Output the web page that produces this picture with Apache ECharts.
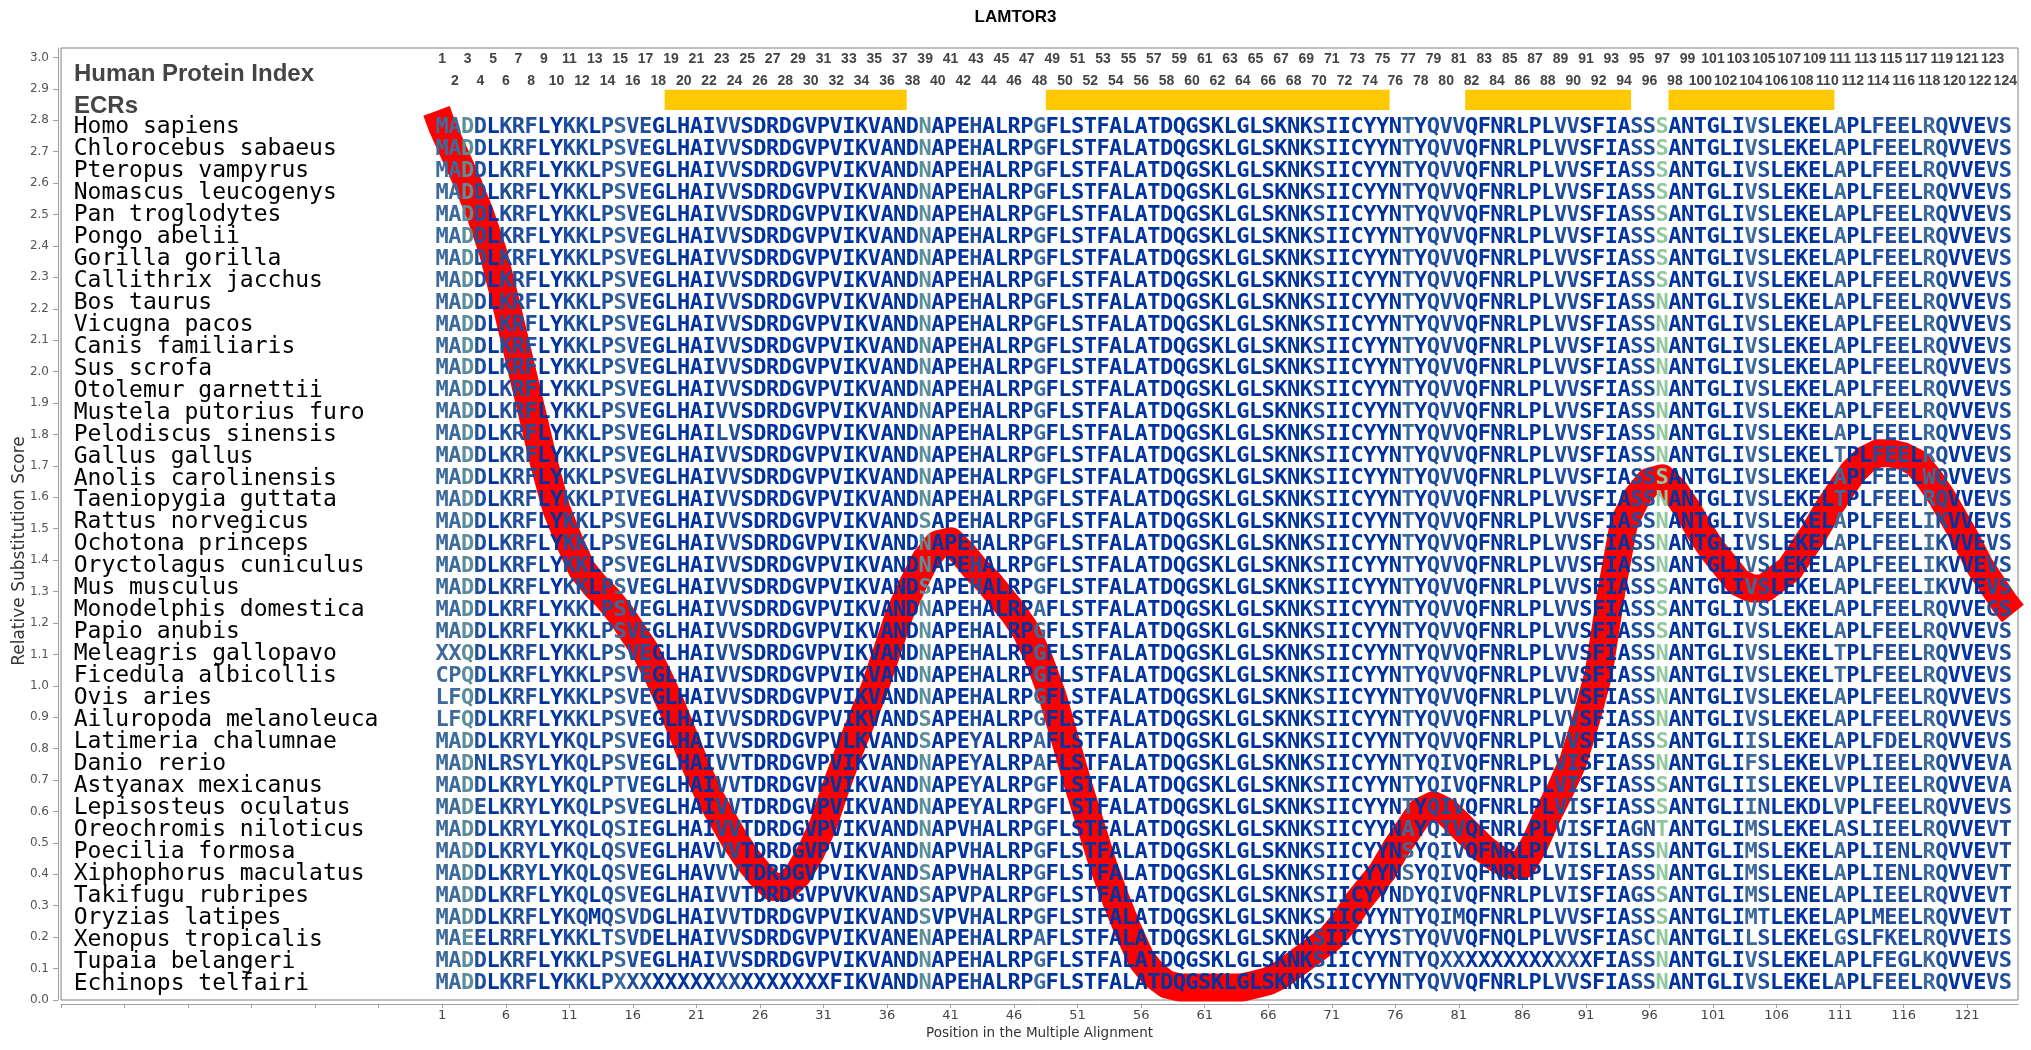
<!DOCTYPE html>
<html>
<head>
<meta charset="utf-8">
<title>LAMTOR3</title>
<script src="https://cdn.jsdelivr.net/npm/echarts@6.0.0/dist/echarts.min.js"></script>
<style>
html, body { margin: 0; padding: 0; background: #fff; }
#chart { width: 2031px; height: 1050px; }
</style>
</head>
<body>
<div id="chart"></div>
<script>
// species shown in the alignment, top to bottom
const species = [
  'Homo sapiens', 'Chlorocebus sabaeus', 'Pteropus vampyrus', 'Nomascus leucogenys',
  'Pan troglodytes', 'Pongo abelii', 'Gorilla gorilla', 'Callithrix jacchus',
  'Bos taurus', 'Vicugna pacos', 'Canis familiaris', 'Sus scrofa',
  'Otolemur garnettii', 'Mustela putorius furo', 'Pelodiscus sinensis', 'Gallus gallus',
  'Anolis carolinensis', 'Taeniopygia guttata', 'Rattus norvegicus', 'Ochotona princeps',
  'Oryctolagus cuniculus', 'Mus musculus', 'Monodelphis domestica', 'Papio anubis',
  'Meleagris gallopavo', 'Ficedula albicollis', 'Ovis aries', 'Ailuropoda melanoleuca',
  'Latimeria chalumnae', 'Danio rerio', 'Astyanax mexicanus', 'Lepisosteus oculatus',
  'Oreochromis niloticus', 'Poecilia formosa', 'Xiphophorus maculatus', 'Takifugu rubripes',
  'Oryzias latipes', 'Xenopus tropicalis', 'Tupaia belangeri', 'Echinops telfairi'
];

// aligned sequences, written in blocks of ten residues
const sequences = [
  'MADDLKRFLY KKLPSVEGLH AIVVSDRDGV PVIKVANDNA PEHALRPGFL STFALATDQG SKLGLSKNKS IICYYNTYQV VQFNRLPLVV SFIASSSANT GLIVSLEKEL APLFEELRQV VEVS',
  'MADDLKRFLY KKLPSVEGLH AIVVSDRDGV PVIKVANDNA PEHALRPGFL STFALATDQG SKLGLSKNKS IICYYNTYQV VQFNRLPLVV SFIASSSANT GLIVSLEKEL APLFEELRQV VEVS',
  'MADDLKRFLY KKLPSVEGLH AIVVSDRDGV PVIKVANDNA PEHALRPGFL STFALATDQG SKLGLSKNKS IICYYNTYQV VQFNRLPLVV SFIASSSANT GLIVSLEKEL APLFEELRQV VEVS',
  'MADDLKRFLY KKLPSVEGLH AIVVSDRDGV PVIKVANDNA PEHALRPGFL STFALATDQG SKLGLSKNKS IICYYNTYQV VQFNRLPLVV SFIASSSANT GLIVSLEKEL APLFEELRQV VEVS',
  'MADDLKRFLY KKLPSVEGLH AIVVSDRDGV PVIKVANDNA PEHALRPGFL STFALATDQG SKLGLSKNKS IICYYNTYQV VQFNRLPLVV SFIASSSANT GLIVSLEKEL APLFEELRQV VEVS',
  'MADDLKRFLY KKLPSVEGLH AIVVSDRDGV PVIKVANDNA PEHALRPGFL STFALATDQG SKLGLSKNKS IICYYNTYQV VQFNRLPLVV SFIASSSANT GLIVSLEKEL APLFEELRQV VEVS',
  'MADDLKRFLY KKLPSVEGLH AIVVSDRDGV PVIKVANDNA PEHALRPGFL STFALATDQG SKLGLSKNKS IICYYNTYQV VQFNRLPLVV SFIASSSANT GLIVSLEKEL APLFEELRQV VEVS',
  'MADDLKRFLY KKLPSVEGLH AIVVSDRDGV PVIKVANDNA PEHALRPGFL STFALATDQG SKLGLSKNKS IICYYNTYQV VQFNRLPLVV SFIASSSANT GLIVSLEKEL APLFEELRQV VEVS',
  'MADDLKRFLY KKLPSVEGLH AIVVSDRDGV PVIKVANDNA PEHALRPGFL STFALATDQG SKLGLSKNKS IICYYNTYQV VQFNRLPLVV SFIASSNANT GLIVSLEKEL APLFEELRQV VEVS',
  'MADDLKRFLY KKLPSVEGLH AIVVSDRDGV PVIKVANDNA PEHALRPGFL STFALATDQG SKLGLSKNKS IICYYNTYQV VQFNRLPLVV SFIASSNANT GLIVSLEKEL APLFEELRQV VEVS',
  'MADDLKRFLY KKLPSVEGLH AIVVSDRDGV PVIKVANDNA PEHALRPGFL STFALATDQG SKLGLSKNKS IICYYNTYQV VQFNRLPLVV SFIASSNANT GLIVSLEKEL APLFEELRQV VEVS',
  'MADDLKRFLY KKLPSVEGLH AIVVSDRDGV PVIKVANDNA PEHALRPGFL STFALATDQG SKLGLSKNKS IICYYNTYQV VQFNRLPLVV SFIASSNANT GLIVSLEKEL APLFEELRQV VEVS',
  'MADDLKRFLY KKLPSVEGLH AIVVSDRDGV PVIKVANDNA PEHALRPGFL STFALATDQG SKLGLSKNKS IICYYNTYQV VQFNRLPLVV SFIASSNANT GLIVSLEKEL APLFEELRQV VEVS',
  'MADDLKRFLY KKLPSVEGLH AIVVSDRDGV PVIKVANDNA PEHALRPGFL STFALATDQG SKLGLSKNKS IICYYNTYQV VQFNRLPLVV SFIASSNANT GLIVSLEKEL APLFEELRQV VEVS',
  'MADDLKRFLY KKLPSVEGLH AILVSDRDGV PVIKVANDNA PEHALRPGFL STFALATDQG SKLGLSKNKS IICYYNTYQV VQFNRLPLVV SFIASSNANT GLIVSLEKEL APLFEELRQV VEVS',
  'MADDLKRFLY KKLPSVEGLH AIVVSDRDGV PVIKVANDNA PEHALRPGFL STFALATDQG SKLGLSKNKS IICYYNTYQV VQFNRLPLVV SFIASSNANT GLIVSLEKEL TPLFEELRQV VEVS',
  'MADDLKRFLY KKLPSVEGLH AIVVSDRDGV PVIKVANDNA PEHALRPGFL STFALATDQG SKLGLSKNKS IICYYNTYQV VQFNRLPLVV SFIASSSANT GLIVSLEKEL APLFEELWQV VEVS',
  'MADDLKRFLY KKLPIVEGLH AIVVSDRDGV PVIKVANDNA PEHALRPGFL STFALATDQG SKLGLSKNKS IICYYNTYQV VQFNRLPLVV SFIASSNANT GLIVSLEKEL TPLFEELRQV VEVS',
  'MADDLKRFLY KKLPSVEGLH AIVVSDRDGV PVIKVANDSA PEHALRPGFL STFALATDQG SKLGLSKNKS IICYYNTYQV VQFNRLPLVV SFIASSNANT GLIVSLEKEL APLFEELIKV VEVS',
  'MADDLKRFLY KKLPSVEGLH AIVVSDRDGV PVIKVANDNA PEHALRPGFL STFALATDQG SKLGLSKNKS IICYYNTYQV VQFNRLPLVV SFIASSNANT GLIVSLEKEL APLFEELIKV VEVS',
  'MADDLKRFLY KKLPSVEGLH AIVVSDRDGV PVIKVANDNA PEHALRPGFL STFALATDQG SKLGLSKNKS IICYYNTYQV VQFNRLPLVV SFIASSNANT GLIVSLEKEL APLFEELIKV VEVS',
  'MADDLKRFLY KKLPSVEGLH AIVVSDRDGV PVIKVANDSA PEHALRPGFL STFALATDQG SKLGLSKNKS IICYYNTYQV VQFNRLPLVV SFIASSSANT GLIVSLEKEL APLFEELIKV VEVS',
  'MADDLKRFLY KKLPSVEGLH AIVVSDRDGV PVIKVANDNA PEHALRPAFL STFALATDQG SKLGLSKNKS IICYYNTYQV VQFNRLPLVV SFIASSSANT GLIVSLEKEL APLFEELRQV VEGS',
  'MADDLKRFLY KKLPSVEGLH AIVVSDRDGV PVIKVANDNA PEHALRPGFL STFALATDQG SKLGLSKNKS IICYYNTYQV VQFNRLPLVV SFIASSSANT GLIVSLEKEL APLFEELRQV VEVS',
  'XXQDLKRFLY KKLPSVEGLH AIVVSDRDGV PVIKVANDNA PEHALRPGFL STFALATDQG SKLGLSKNKS IICYYNTYQV VQFNRLPLVV SFIASSNANT GLIVSLEKEL TPLFEELRQV VEVS',
  'CPQDLKRFLY KKLPSVEGLH AIVVSDRDGV PVIKVANDNA PEHALRPGFL STFALATDQG SKLGLSKNKS IICYYNTYQV VQFNRLPLVV SFIASSNANT GLIVSLEKEL TPLFEELRQV VEVS',
  'LFQDLKRFLY KKLPSVEGLH AIVVSDRDGV PVIKVANDNA PEHALRPGFL STFALATDQG SKLGLSKNKS IICYYNTYQV VQFNRLPLVV SFIASSNANT GLIVSLEKEL APLFEELRQV VEVS',
  'LFQDLKRFLY KKLPSVEGLH AIVVSDRDGV PVIKVANDSA PEHALRPGFL STFALATDQG SKLGLSKNKS IICYYNTYQV VQFNRLPLVV SFIASSNANT GLIVSLEKEL APLFEELRQV VEVS',
  'MADDLKRYLY KQLPSVEGLH AIVVSDRDGV PVLKVANDSA PEYALRPAFL STFALATDQG SKLGLSKNKS IICYYNTYQV VQFNRLPLVV SFIASSSANT GLIISLEKEL APLFDELRQV VEVS',
  'MADNLRSYLY KQLPSVEGLH AIVVTDRDGV PVIKVANDNA PEYALRPAFL STFALATDQG SKLGLSKNKS IICYYNTYQI VQFNRLPLVI SFIASSNANT GLIFSLEKEL VPLIEELRQV VEVA',
  'MADDLKRYLY KQLPTVEGLH AIVVTDRDGV PVIKVANDNA PEYALRPGFL STFALATDQG SKLGLSKNKS IICYYNTYQI VQFNRLPLVI SFIASSSANT GLIISLEKEL VPLIEELRQV VEVA',
  'MADELKRYLY KQLPSVEGLH AIVVTDRDGV PVIKVANDNA PEYALRPGFL STFALATDQG SKLGLSKNKS IICYYNTYQI VQFNRLPLVI SFIASSSANT GLIINLEKDL VPLFEELRQV VEVS',
  'MADDLKRYLY KQLQSIEGLH AIVVTDRDGV PVIKVANDNA PVHALRPGFL STFALATDQG SKLGLSKNKS IICYYNAYQI VQFNRLPLVI SFIAGNTANT GLIMSLEKEL ASLIEELRQV VEVT',
  'MADDLKRYLY KQLQSVEGLH AVVVTDRDGV PVIKVANDNA PVHALRPGFL STFALATDQG SKLGLSKNKS IICYYNSYQI VQFNRLPLVI SLIASSNANT GLIMSLEKEL APLIENLRQV VEVT',
  'MADDLKRYLY KQLQSVEGLH AVVVTDRDGV PVIKVANDSA PVHALRPGFL STFALATDQG SKLGLSKNKS IICYYNSYQI VQFNRLPLVI SFIASSNANT GLIMSLEKEL APLIENLRQV VEVT',
  'MADDLKRFLY KQLQSVEGLH AIVVTDRDGV PVVKVANDSA PVPALRPGFL STFALATDQG SKLGLSKNKS IICYYNDYQI VQFNRLPLVI SFIAGSSANT GLIMSLENEL APLIEELRQV VEVT',
  'MADDLKRFLY KQMQSVDGLH AIVVTDRDGV PVIKVANDSV PVHALRPGFL STFALATDQG SKLGLSKNKS IICYYNTYQI MQFNRLPLVV SFIASSSANT GLIMTLEKEL APLMEELRQV VEVT',
  'MAEELRRFLY KKLTSVDELH AIVVSDRDGV PVIKVANENA PEHALRPAFL STFALATDQG SKLGLSKNKS IICYYSTYQV VQFNQLPLVV SFIASCNANT GLILSLEKEL GSLFKELRQV VEIS',
  'MADDLKRFLY KKLPSVEGLH AIVVSDRDGV PVIKVANDNA PEHALRPGFL STFALATDQG SKLGLSKNKS IICYYNTYQX XXXXXXXXXX XFIASSNANT GLIVSLEKEL APLFEGLKQV VEVS',
  'MADDLKRFLY KKLPXXXXXX XXXXXXXXXX XFIKVANDNA PEHALRPGFL STFALATDQG SKLGLSKNKS IICYYNTYQV VQFNRLPLVV SFIASSNANT GLIVSLEKEL APLFEELRQV VEVS'
].map(s => s.replace(/ /g, ''));

// conservation shade of each alignment column (0 = darkest blue, 4 = pale green)
const columnShade =
  '2231011100' + '1101211000' + '0011000000' + '0000000030' + '0010000200' +
  '0000000000' + '0000000001' + '0000002011' + '1000000011' + '0000114000' +
  '0002100000' + '2001110210' + '0011';
const shadeColors = ['#0033a0', '#1f4e9d', '#3d6a9c', '#5b8e98', '#91c79c'];

// evolutionarily conserved regions (first and last position)
const ecrStart = [19, 49, 82, 98];
const ecrEnd = [37, 75, 94, 110];

// relative substitution score read along the alignment
const scoreStart = [0.55, 2.83];
const scoreEnd = [124.6, 1.23];
const scoreValues = [
  2.78, 2.69, 2.60, 2.50, 2.38, 2.22, 2.05, 1.88, 1.71, 1.56,
  1.46, 1.37, 1.32, 1.28, 1.23, 1.17, 1.11, 1.03, 0.94, 0.84,
  0.74, 0.65, 0.58, 0.51, 0.45, 0.40, 0.36, 0.36, 0.40, 0.47,
  0.56, 0.68, 0.79, 0.89, 0.99, 1.11, 1.23, 1.32, 1.40, 1.45,
  1.46, 1.42, 1.37, 1.33, 1.28, 1.23, 1.17, 1.08, 0.97, 0.83,
  0.69, 0.56, 0.43, 0.32, 0.22, 0.13, 0.08, 0.05, 0.04, 0.04,
  0.04, 0.04, 0.04, 0.04, 0.05, 0.06, 0.08, 0.11, 0.14, 0.17,
  0.20, 0.25, 0.31, 0.36, 0.41, 0.48, 0.54, 0.60, 0.62, 0.60,
  0.56, 0.52, 0.48, 0.45, 0.43, 0.43, 0.50, 0.59, 0.67, 0.76,
  0.89, 1.04, 1.30, 1.52, 1.60, 1.65, 1.66, 1.62, 1.56, 1.49,
  1.43, 1.38, 1.33, 1.31, 1.31, 1.34, 1.37, 1.43, 1.49, 1.56,
  1.62, 1.68, 1.72, 1.74, 1.74, 1.73, 1.71, 1.66, 1.60, 1.53,
  1.46, 1.38, 1.32, 1.26
];

// axis ticks
const xTicks = [-29, -24, -19, -14, -9, -4, 1, 6, 11, 16, 21, 26, 31, 36, 41, 46, 51, 56, 61,
  66, 71, 76, 81, 86, 91, 96, 101, 106, 111, 116, 121];
const yTicks = [0, 0.1, 0.2, 0.3, 0.4, 0.5, 0.6, 0.7, 0.8, 0.9, 1.0, 1.1, 1.2, 1.3, 1.4, 1.5,
  1.6, 1.7, 1.8, 1.9, 2.0, 2.1, 2.2, 2.3, 2.4, 2.5, 2.6, 2.7, 2.8, 2.9, 3.0];

const positions = sequences[0].split('').map((c, k) => k + 1);
const scoreData = [scoreStart].concat(scoreValues.map((v, k) => [k + 1, v]), [scoreEnd]);

const MONO = '"DejaVu Sans Mono", monospace';
const SANS = '"Liberation Sans", Arial, sans-serif';
const AXIS_FONT = '"DejaVu Sans", sans-serif';

const chart = echarts.init(document.getElementById('chart'));

// one row of the alignment: species name + residues
function renderRow(params, api) {
  const i = params.dataIndex;
  const y = api.value(1);
  const seq = sequences[i];
  const nameAt = api.coord([api.value(0), y]);
  const children = [{
    type: 'text', x: nameAt[0], y: nameAt[1],
    style: { text: species[i], font: '23px ' + MONO, fill: '#000', align: 'left', verticalAlign: 'middle' }
  }];
  for (let k = 0; k < seq.length; k++) {
    const pt = api.coord([k + 1, y]);
    children.push({
      type: 'text', x: pt[0], y: pt[1],
      style: { text: seq[k], font: 'bold 22px ' + MONO, fill: shadeColors[+columnShade[k]], align: 'center', verticalAlign: 'middle' }
    });
  }
  return { type: 'group', children: children };
}

chart.setOption({
  animation: false,
  backgroundColor: '#fff',
  title: {
    text: 'LAMTOR3', left: 'center', top: 4,
    textStyle: { fontFamily: SANS, fontSize: 17, fontWeight: 'bold', color: '#000' }
  },
  grid: {
    left: 61, right: 13, top: 48, bottom: 50,
    show: true, borderColor: '#808080', borderWidth: 1,
    containLabel: false, outerBoundsMode: 'none'
  },
  xAxis: {
    type: 'value', min: -29, max: 125, offset: 4,
    name: 'Position in the Multiple Alignment', nameLocation: 'middle', nameGap: 22,
    nameTextStyle: { fontFamily: AXIS_FONT, fontSize: 13.5, color: '#333' },
    axisLine: { show: true, onZero: false, lineStyle: { color: '#a0a0a0' } },
    axisTick: { show: true, length: 4, customValues: xTicks, lineStyle: { color: '#a0a0a0' } },
    axisLabel: {
      customValues: xTicks, margin: 5, color: '#444', fontSize: 13, fontFamily: AXIS_FONT,
      formatter: v => (v >= 1 ? String(v) : '')
    },
    splitLine: { show: false }
  },
  yAxis: {
    type: 'value', min: 0, max: 3.03, offset: 3,
    axisLine: { show: true, onZero: false, lineStyle: { color: '#a0a0a0' } },
    axisTick: { show: true, length: 5, customValues: yTicks, lineStyle: { color: '#a0a0a0' } },
    axisLabel: {
      customValues: yTicks, margin: 9, color: '#555', fontSize: 12, fontFamily: AXIS_FONT,
      formatter: v => v.toFixed(1)
    },
    splitLine: { show: false }
  },
  graphic: [
    { type: 'text', left: 74, top: 62, style: { text: 'Human Protein Index', font: 'bold 24px ' + SANS, fill: '#444' } },
    { type: 'text', left: 74, top: 94, style: { text: 'ECRs', font: 'bold 24px ' + SANS, fill: '#444' } },
    {
      type: 'text', x: 20, y: 551, rotation: Math.PI / 2,
      style: { text: 'Relative Substitution Score', font: '17px ' + AXIS_FONT, fill: '#333', align: 'center', verticalAlign: 'middle' }
    }
  ],
  series: [
    {
      name: 'score', type: 'line', data: scoreData, z: 2,
      showSymbol: false, symbol: 'none', clip: true, silent: true,
      lineStyle: { color: '#ff0000', width: 28, cap: 'butt', join: 'round' }
    },
    {
      name: 'alignment', type: 'custom', z: 4, silent: true,
      data: species.map((s, i) => [-28, 2.778 - i * 0.0699]),
      renderItem: renderRow
    },
    {
      name: 'index', type: 'custom', z: 4, silent: true,
      data: positions.map(p => [p, p % 2 ? 2.995 : 2.925]),
      renderItem: function (params, api) {
        const pt = api.coord([api.value(0), api.value(1)]);
        return {
          type: 'text', x: pt[0], y: pt[1],
          style: { text: String(api.value(0)), font: 'bold 14px ' + SANS, fill: '#444', align: 'center', verticalAlign: 'middle' }
        };
      }
    },
    {
      name: 'ECRs', type: 'custom', z: 3, silent: true,
      data: ecrStart.map((s, i) => [s, ecrEnd[i]]),
      renderItem: function (params, api) {
        const a = api.coord([api.value(0) - 0.5, 2.897]);
        const b = api.coord([api.value(1) + 0.55, 2.833]);
        return { type: 'rect', shape: { x: a[0], y: a[1], width: b[0] - a[0], height: b[1] - a[1] }, style: { fill: '#ffc800' } };
      }
    }
  ]
});
</script>
</body>
</html>
